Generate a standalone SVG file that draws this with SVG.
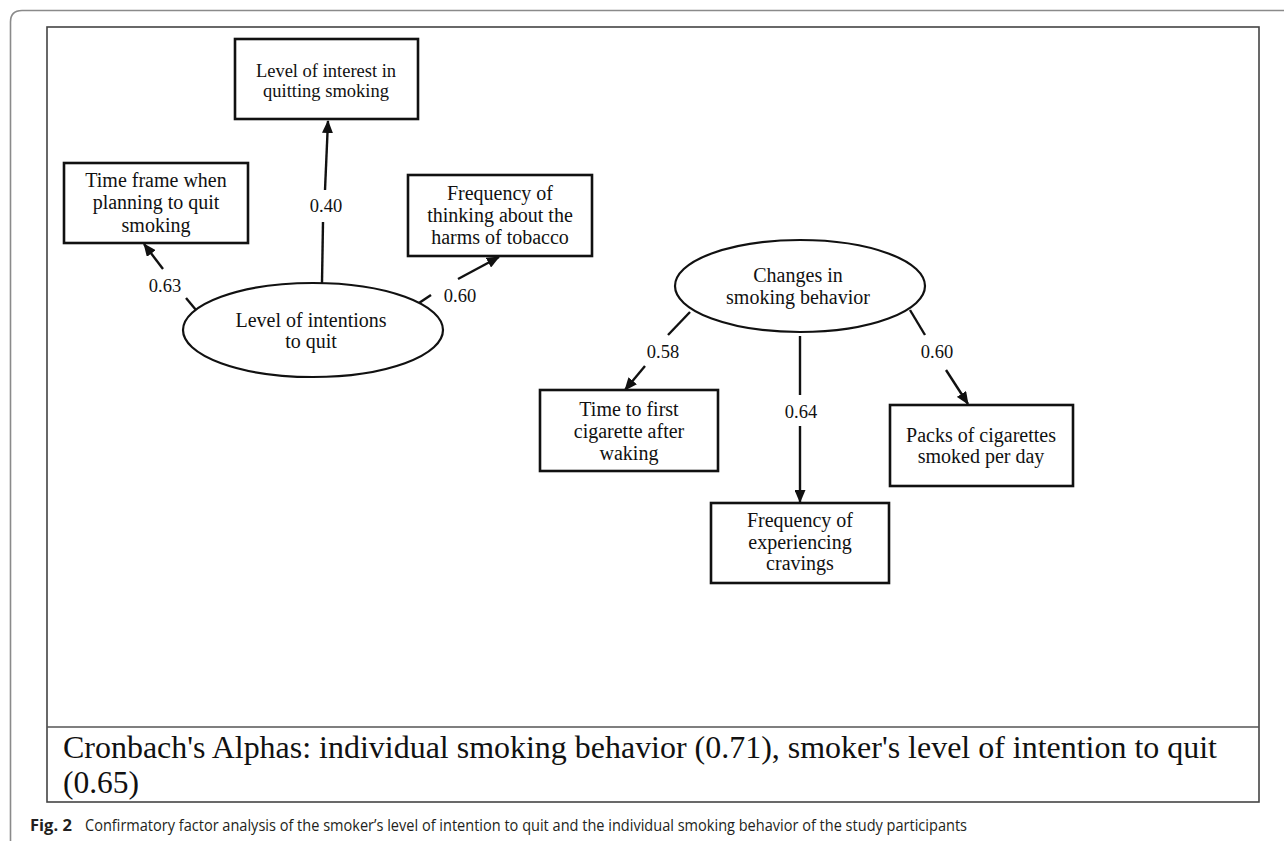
<svg xmlns="http://www.w3.org/2000/svg" width="1284" height="841" viewBox="0 0 1284 841">
<style>
.box{fill:#fff;stroke:#111;stroke-width:2.6}
.ell{fill:#fff;stroke:#111;stroke-width:2.2}
.t{font-family:"Liberation Serif","Times New Roman",serif;font-size:20px;fill:#111;text-anchor:middle}
.ts{font-size:18.5px}
.lbl{font-family:"Liberation Serif","Times New Roman",serif;font-size:18.5px;fill:#111;text-anchor:middle}
.ln{stroke:#111;stroke-width:2.4;fill:none}
.ar{stroke:#111;stroke-width:2.4;fill:none;marker-end:url(#ah)}
</style>
<defs>
<marker id="ah" markerUnits="userSpaceOnUse" markerWidth="13" markerHeight="11" viewBox="0 0 13 11" refX="12" refY="5.5" orient="auto">
<path d="M0,0 L13,5.5 L0,11 Z" fill="#111"/>
</marker>
</defs>
<rect width="1284" height="841" fill="#fff"/>
<path d="M10.5,841 V22 Q10.5,10.5 22,10.5 H1284" fill="none" stroke="#8a8a8a" stroke-width="1.6"/>
<g id="frame">
<rect x="47" y="27" width="1212" height="775" fill="none" stroke="#444" stroke-width="1.6"/>
<line x1="47" y1="727" x2="1259" y2="727" stroke="#555" stroke-width="1.6"/>
</g>
<g id="connectors">
<line class="ln" x1="322" y1="283" x2="323" y2="222"/>
<line class="ar" x1="325" y1="190" x2="328" y2="121"/>
<line class="ln" x1="186" y1="298" x2="196" y2="310"/>
<line class="ar" x1="163" y1="269" x2="144" y2="244"/>
<line class="ln" x1="419" y1="303" x2="431" y2="295"/>
<line class="ar" x1="458" y1="279" x2="499" y2="257"/>
<line class="ln" x1="690" y1="312" x2="668" y2="335"/>
<line class="ar" x1="645" y1="366" x2="625" y2="390"/>
<line class="ln" x1="800" y1="336" x2="800" y2="395"/>
<line class="ar" x1="800" y1="426" x2="800" y2="502"/>
<line class="ln" x1="910" y1="310" x2="925" y2="335"/>
<line class="ar" x1="946" y1="370" x2="968" y2="404"/>
<text class="lbl" x="326" y="212">0.40</text>
<text class="lbl" x="165" y="292">0.63</text>
<text class="lbl" x="460" y="302">0.60</text>
<text class="lbl" x="663" y="358">0.58</text>
<text class="lbl" x="801" y="418">0.64</text>
<text class="lbl" x="937" y="358">0.60</text>
</g>
<g id="n-interest">
<rect class="box" x="235" y="39" width="183" height="80"/>
<text class="t ts" x="326" y="77">Level of interest in</text>
<text class="t ts" x="326" y="97">quitting smoking</text>
</g>
<g id="n-timeframe">
<rect class="box" x="64" y="163" width="184" height="80"/>
<text class="t" x="156" y="187">Time frame when</text>
<text class="t" x="156" y="209">planning to quit</text>
<text class="t" x="156" y="232">smoking</text>
</g>
<g id="n-harms">
<rect class="box" x="408" y="175" width="184" height="81"/>
<text class="t" x="500" y="200">Frequency of</text>
<text class="t" x="500" y="222">thinking about the</text>
<text class="t" x="500" y="244">harms of tobacco</text>
</g>
<g id="n-intentions">
<ellipse class="ell" cx="313" cy="330" rx="130" ry="47"/>
<text class="t" x="311" y="327">Level of intentions</text>
<text class="t" x="311" y="348">to quit</text>
</g>
<g id="n-changes">
<ellipse class="ell" cx="800" cy="286" rx="125" ry="46"/>
<text class="t" x="798" y="282">Changes in</text>
<text class="t" x="798" y="304">smoking behavior</text>
</g>
<g id="n-firstcig">
<rect class="box" x="540" y="390" width="178" height="81"/>
<text class="t" x="629" y="416">Time to first</text>
<text class="t" x="629" y="438">cigarette after</text>
<text class="t" x="629" y="460">waking</text>
</g>
<g id="n-cravings">
<rect class="box" x="711" y="503" width="178" height="80"/>
<text class="t" x="800" y="527">Frequency of</text>
<text class="t" x="800" y="549">experiencing</text>
<text class="t" x="800" y="570">cravings</text>
</g>
<g id="n-packs">
<rect class="box" x="890" y="405" width="183" height="81"/>
<text class="t" x="981" y="442">Packs of cigarettes</text>
<text class="t" x="981" y="463">smoked per day</text>
</g>
<g id="alphas" font-family="Liberation Serif, Times New Roman, serif" font-size="31.5" fill="#111">
<text x="63" y="758" textLength="1154" lengthAdjust="spacingAndGlyphs">Cronbach's Alphas: individual smoking behavior (0.71), smoker's level of intention to quit</text>
<text x="63" y="793">(0.65)</text>
</g>
<g id="caption" fill="#231f20">
<text x="30" y="831" font-family="Open Sans, Noto Sans, sans-serif" font-size="16.5" font-weight="bold">Fig. 2</text>
<text x="85" y="831" font-family="Open Sans, Noto Sans, sans-serif" font-size="16" textLength="882" lengthAdjust="spacingAndGlyphs">Confirmatory factor analysis of the smoker’s level of intention to quit and the individual smoking behavior of the study participants</text>
</g>
</svg>
